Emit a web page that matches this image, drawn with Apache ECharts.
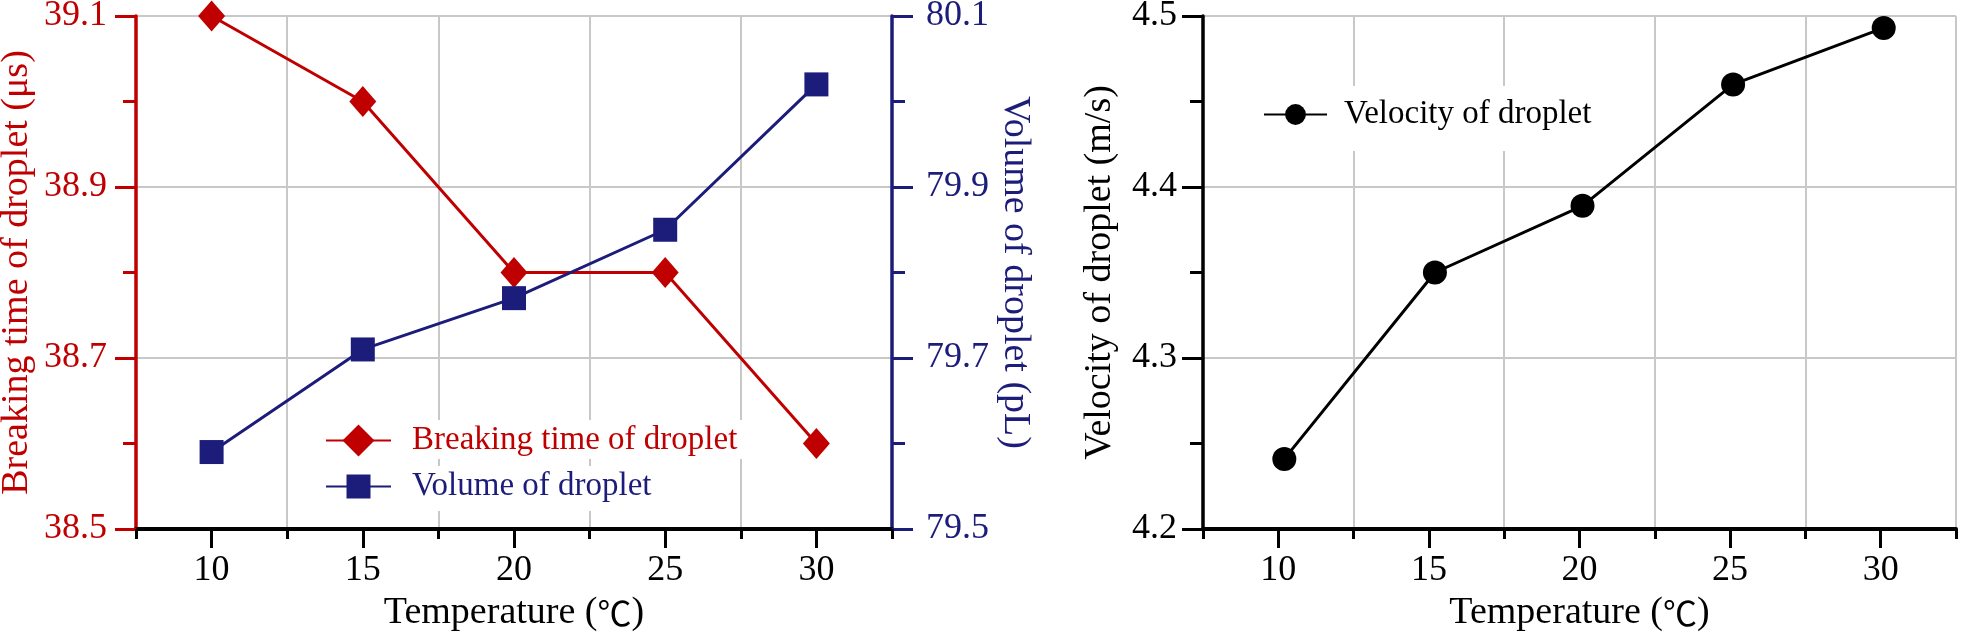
<!DOCTYPE html>
<html>
<head>
<meta charset="utf-8">
<script src="https://cdn.jsdelivr.net/npm/echarts@6/dist/echarts.min.js"></script>
<style>
html,body{margin:0;padding:0;background:#fff;}
#chart{width:1961px;height:632px;}
</style>
</head>
<body>
<div id="chart"></div>
<script>
// ---- data ----
const temperatures = [10, 15, 20, 25, 30];
const breakingTime = [39.1, 39.0, 38.8, 38.8, 38.6];
const dropletVolume = [79.59, 79.71, 79.77, 79.85, 80.02];
const velocityTemperatures = [10.2, 15.2, 20.1, 25.1, 30.1];
const dropletVelocity = [4.241, 4.350, 4.389, 4.460, 4.493];
const xMajorTicks = [10, 15, 20, 25, 30];
const breakingTicks = [38.5, 38.7, 38.9, 39.1];
const volumeTicks = [79.5, 79.7, 79.9, 80.1];
const velocityTicks = [4.2, 4.3, 4.4, 4.5];

const RED = '#C00000';
const NAVY = '#1C1C7A';
const BLACK = '#000000';
const GRID = '#c8c8c8';
const FONT = "'Liberation Serif', 'Noto Sans CJK SC', serif";

function pairs(xs, ys) { return xs.map((x, i) => [x, ys[i]]); }

function mainX(gridIndex) {
  return {
    type: 'value', gridIndex, min: 7.5, max: 32.5, interval: 2.5, position: 'bottom',
    name: 'Temperature ({c|℃})', nameLocation: 'middle', nameGap: 64,
    nameTextStyle: { fontFamily: FONT, fontSize: 38, color: BLACK,
      rich: { c: { fontFamily: "'Noto Sans CJK SC'", fontSize: 34, color: BLACK } } },
    axisLine: { show: true, onZero: false, lineStyle: { color: BLACK, width: 4 } },
    axisTick: { show: true, length: 10, lineStyle: { color: BLACK, width: 3 } },
    axisLabel: {
      show: true, margin: 24, fontFamily: FONT, fontSize: 36, color: BLACK,
      formatter: v => (Math.abs(v % 5) < 1e-6 ? String(v) : '')
    },
    splitLine: { show: true, showMinLine: true, showMaxLine: true,
      lineStyle: { color: [GRID, 'rgba(0,0,0,0)'], width: 2 } }
  };
}
function overlayX(gridIndex) {
  return {
    type: 'value', gridIndex, min: 7.5, max: 32.5, interval: 2.5, position: 'bottom',
    axisLine: { show: false },
    axisTick: { show: true, length: 19, customValues: xMajorTicks, lineStyle: { color: BLACK, width: 3 } },
    axisLabel: { show: false },
    splitLine: { show: false }
  };
}
function mainY(gridIndex, pos, min, max, interval, color, name, nameGap, rot, margin, labelTicks, grid) {
  return {
    type: 'value', gridIndex, position: pos, min, max, interval,
    name, nameLocation: 'middle', nameGap, nameRotate: rot,
    nameTextStyle: { fontFamily: FONT, fontSize: 38, color },
    axisLine: { show: true, onZero: false, lineStyle: { color, width: 3.5 } },
    axisTick: { show: true, length: 13, lineStyle: { color, width: 3 } },
    axisLabel: {
      show: true, margin, fontFamily: FONT, fontSize: 36, color,
      formatter: v => (labelTicks.some(t => Math.abs(t - v) < 1e-6) ? v.toFixed(1) : '')
    },
    splitLine: grid ? { show: true, showMinLine: true, showMaxLine: true,
      lineStyle: { color: [GRID, 'rgba(0,0,0,0)'], width: 2 } } : { show: false }
  };
}
function overlayY(gridIndex, pos, min, max, interval, color, ticks) {
  return {
    type: 'value', gridIndex, position: pos, min, max, interval,
    axisLine: { show: false },
    axisTick: { show: true, length: 21, customValues: ticks, lineStyle: { color, width: 3 } },
    axisLabel: { show: false },
    splitLine: { show: false }
  };
}

const chart = echarts.init(document.getElementById('chart'), null, { renderer: 'canvas' });
chart.setOption({
  animation: false,
  backgroundColor: '#ffffff',
  textStyle: { fontFamily: FONT },
  grid: [
    { left: 136, right: 1069, top: 16, bottom: 103, outerBoundsMode: 'none' },
    { left: 1203, right: 5, top: 16, bottom: 103, outerBoundsMode: 'none' }
  ],
  xAxis: [mainX(0), overlayX(0), mainX(1), overlayX(1)],
  yAxis: [
    mainY(0, 'left', 38.5, 39.1, 0.1, RED, 'Breaking time of droplet (μs)', 100, 90, 29, breakingTicks, true),
    mainY(0, 'right', 79.5, 80.1, 0.1, NAVY, 'Volume of droplet (pL)', 104, -90, 34, volumeTicks, false),
    mainY(1, 'left', 4.2, 4.5, 0.05, BLACK, 'Velocity of droplet (m/s)', 84, 90, 26, velocityTicks, true),
    overlayY(0, 'left', 38.5, 39.1, 0.1, RED, breakingTicks),
    overlayY(0, 'right', 79.5, 80.1, 0.1, NAVY, volumeTicks),
    overlayY(1, 'left', 4.2, 4.5, 0.05, BLACK, velocityTicks)
  ],
  legend: [
    {
      data: ['Breaking time of droplet'], orient: 'vertical', left: 315, top: 420,
      itemWidth: 65, itemHeight: 40, padding: [4, 10, 2, 10], backgroundColor: '#ffffff',
      textStyle: { fontFamily: FONT, fontSize: 33, color: RED, padding: [0, 0, 0, 16] }
    },
    {
      data: ['Volume of droplet'], orient: 'vertical', left: 315, top: 466,
      itemWidth: 65, itemHeight: 30, padding: [4, 10, 8, 10], backgroundColor: '#ffffff',
      textStyle: { fontFamily: FONT, fontSize: 33, color: NAVY, padding: [0, 0, 0, 16] }
    },
    {
      data: ['Velocity of droplet'], orient: 'vertical', left: 1253, top: 86,
      itemWidth: 63, itemHeight: 26, padding: [12, 20, 20, 10], backgroundColor: '#ffffff',
      textStyle: { fontFamily: FONT, fontSize: 33, color: BLACK, padding: [0, 0, 0, 12] }
    }
  ],
  series: [
    {
      name: 'Breaking time of droplet', type: 'line', xAxisIndex: 0, yAxisIndex: 0,
      data: pairs(temperatures, breakingTime), symbol: 'diamond', symbolSize: [27, 31],
      itemStyle: { color: RED }, lineStyle: { color: RED, width: 3 }, z: 3
    },
    {
      name: 'Volume of droplet', type: 'line', xAxisIndex: 0, yAxisIndex: 1,
      data: pairs(temperatures, dropletVolume), symbol: 'rect', symbolSize: 24,
      itemStyle: { color: NAVY }, lineStyle: { color: NAVY, width: 3 }, z: 3
    },
    {
      name: 'Velocity of droplet', type: 'line', xAxisIndex: 2, yAxisIndex: 2,
      data: pairs(velocityTemperatures, dropletVelocity), symbol: 'circle', symbolSize: 24,
      itemStyle: { color: BLACK }, lineStyle: { color: BLACK, width: 3 }, z: 3
    }
  ]
});
</script>
</body>
</html>
